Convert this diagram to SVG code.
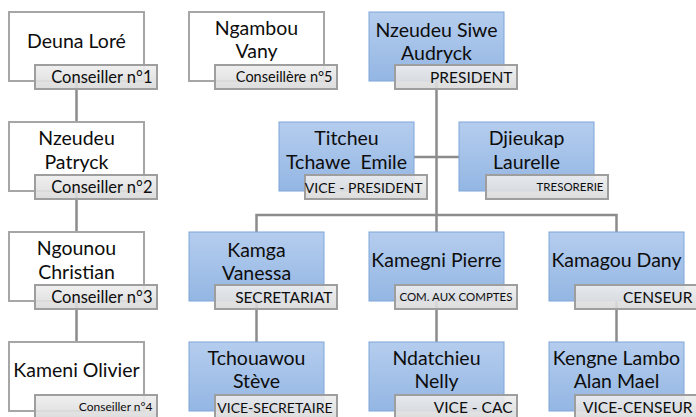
<svg xmlns="http://www.w3.org/2000/svg" width="696" height="417" viewBox="0 0 696 417">
<defs>
<linearGradient id="gBlue" x1="0" y1="0" x2="0" y2="1">
<stop offset="0" stop-color="#b5cdee"/>
<stop offset="1" stop-color="#93b6e3"/>
</linearGradient>
<linearGradient id="gLab" x1="0" y1="0" x2="0" y2="1">
<stop offset="0" stop-color="#eeeeee"/>
<stop offset="1" stop-color="#d9d9d9"/>
</linearGradient>
<style>
.conn{fill:none;stroke:#8c8c8c;stroke-width:2.5}
.wbox{fill:#ffffff;stroke:#a6a6a6;stroke-width:2}
.bbox{fill:url(#gBlue);stroke:#7ea6da;stroke-width:1}
.lab{fill:url(#gLab);stroke:#9e9e9e;stroke-width:2;fill-opacity:0.9}
.name{font-family:Lato,"Liberation Sans",sans-serif;font-size:19.5px;fill:#0d0d0d;text-anchor:middle;white-space:pre}
.lt{font-family:Lato,"Liberation Sans",sans-serif;font-size:15.5px;fill:#0d0d0d;text-anchor:end}
.ls{font-family:Lato,"Liberation Sans",sans-serif;font-size:11.5px;fill:#0d0d0d;text-anchor:end}
</style>
</defs>
<g id="connectors">
<path class="conn" d="M76.5 81V122M76.5 191V232M76.5 301V342"/>
<path class="conn" d="M436.5 81V232M414 157H459M256.5 232V215H616.5V232"/>
<path class="conn" d="M256.5 301V342M436.5 301V342M616.5 301V342"/>
</g>
<g id="n-deuna">
<rect class="wbox" x="9" y="12" width="135" height="69"/>
<text class="name" x="76.5" y="48">Deuna Loré</text>
<rect class="lab" x="35" y="65" width="122" height="24"/>
<text class="lt" x="152.5" y="83" style="font-size:16.5px">Conseiller n°1</text>
</g>
<g id="n-patryck">
<rect class="wbox" x="9" y="122" width="135" height="69"/>
<text class="name" x="76.5" y="145">Nzeudeu</text>
<text class="name" x="76.5" y="169">Patryck</text>
<rect class="lab" x="35" y="175" width="122" height="24"/>
<text class="lt" x="152.5" y="193" style="font-size:16.5px">Conseiller n°2</text>
</g>
<g id="n-christian">
<rect class="wbox" x="9" y="232" width="135" height="69"/>
<text class="name" x="76.5" y="255">Ngounou</text>
<text class="name" x="76.5" y="279">Christian</text>
<rect class="lab" x="35" y="285" width="122" height="24"/>
<text class="lt" x="152.5" y="303" style="font-size:16.5px">Conseiller n°3</text>
</g>
<g id="n-olivier">
<rect class="wbox" x="9" y="342" width="135" height="69"/>
<text class="name" x="76.5" y="377">Kameni Olivier</text>
<rect class="lab" x="35" y="395" width="122" height="24"/>
<text class="ls" x="152.5" y="411" style="font-size:12px">Conseiller n°4</text>
</g>
<g id="n-vany">
<rect class="wbox" x="189" y="12" width="135" height="69"/>
<text class="name" x="256.5" y="35">Ngambou</text>
<text class="name" x="256.5" y="58">Vany</text>
<rect class="lab" x="215" y="65" width="122" height="24"/>
<text class="ls" x="332.5" y="82" style="font-size:14.5px">Conseillère n°5</text>
</g>
<g id="n-president">
<rect class="bbox" x="369" y="12" width="135" height="69"/>
<text class="name" x="436.5" y="37">Nzeudeu Siwe</text>
<text class="name" x="436.5" y="60">Audryck</text>
<rect class="lab" x="395" y="65" width="122" height="24"/>
<text class="lt" x="512.5" y="83">PRESIDENT</text>
</g>
<g id="n-vicepresident">
<rect class="bbox" x="279" y="122" width="135" height="69"/>
<text class="name" x="346.5" y="145">Titcheu</text>
<text class="name" x="346.5" y="169">Tchawe  Emile</text>
<rect class="lab" x="305" y="175" width="122" height="24"/>
<text class="lt" x="422.5" y="193" style="font-size:14px">VICE - PRESIDENT</text>
</g>
<g id="n-tresorerie">
<rect class="bbox" x="459" y="122" width="135" height="69"/>
<text class="name" x="526.5" y="145">Djieukap</text>
<text class="name" x="526.5" y="169">Laurelle</text>
<rect class="lab" x="486" y="175" width="122" height="24"/>
<text class="ls" x="603.5" y="191">TRESORERIE</text>
</g>
<g id="n-secretariat">
<rect class="bbox" x="189" y="232" width="135" height="69"/>
<text class="name" x="256.5" y="257">Kamga</text>
<text class="name" x="256.5" y="280">Vanessa</text>
<rect class="lab" x="215" y="285" width="122" height="24"/>
<text class="lt" x="332.5" y="303">SECRETARIAT</text>
</g>
<g id="n-cac">
<rect class="bbox" x="369" y="232" width="135" height="69"/>
<text class="name" x="436.5" y="267">Kamegni Pierre</text>
<rect class="lab" x="395" y="285" width="122" height="24"/>
<text class="ls" x="512.5" y="301">COM. AUX COMPTES</text>
</g>
<g id="n-censeur">
<rect class="bbox" x="549" y="232" width="135" height="69"/>
<text class="name" x="616.5" y="267">Kamagou Dany</text>
<rect class="lab" x="575" y="285" width="122" height="24"/>
<text class="lt" x="692.5" y="303">CENSEUR</text>
</g>
<g id="n-vicesecretaire">
<rect class="bbox" x="189" y="342" width="135" height="69"/>
<text class="name" x="256.5" y="365">Tchouawou</text>
<text class="name" x="256.5" y="388">Stève</text>
<rect class="lab" x="215" y="395" width="122" height="24"/>
<text class="lt" x="332.5" y="413" style="font-size:14px">VICE-SECRETAIRE</text>
</g>
<g id="n-vicecac">
<rect class="bbox" x="369" y="342" width="135" height="69"/>
<text class="name" x="436.5" y="365">Ndatchieu</text>
<text class="name" x="436.5" y="388">Nelly</text>
<rect class="lab" x="395" y="395" width="122" height="24"/>
<text class="lt" x="512.5" y="413">VICE - CAC</text>
</g>
<g id="n-vicecenseur">
<rect class="bbox" x="549" y="342" width="135" height="69"/>
<text class="name" x="616.5" y="365">Kengne Lambo</text>
<text class="name" x="616.5" y="388">Alan Mael</text>
<rect class="lab" x="575" y="395" width="122" height="24"/>
<text class="lt" x="692.5" y="413">VICE-CENSEUR</text>
</g>
</svg>
